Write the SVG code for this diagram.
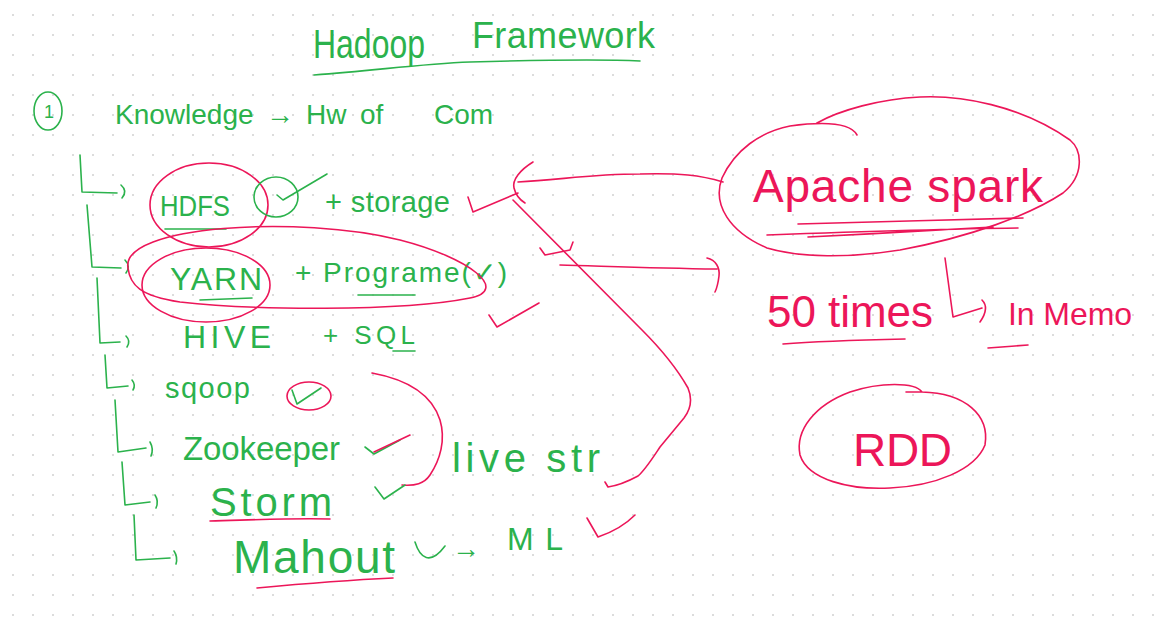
<svg xmlns="http://www.w3.org/2000/svg" width="1168" height="632" viewBox="0 0 1168 632">
<defs>
<pattern id="dots" width="20" height="20" patternUnits="userSpaceOnUse">
<rect x="12" y="14" width="2" height="2" fill="#dcdcdc"/>
</pattern>
<style>
.g{fill:none;stroke:#2bb24c;stroke-width:1.6;stroke-linecap:round;stroke-linejoin:round}
.p{fill:none;stroke:#ec1659;stroke-width:1.6;stroke-linecap:round;stroke-linejoin:round}
.tg{fill:#2bb24c;font-family:"Liberation Sans",Arial,sans-serif}
.tp{fill:#ec1659;font-family:"Liberation Sans",Arial,sans-serif}
</style>
</defs>
<rect width="1168" height="632" fill="#ffffff"/>
<rect width="1168" height="632" fill="url(#dots)"/>

<g id="title">
<text class="tg" x="313" y="58" font-size="40" textLength="112" lengthAdjust="spacingAndGlyphs">Hadoop</text>
<text class="tg" x="472" y="48" font-size="36" textLength="183" lengthAdjust="spacing">Framework</text>
<path class="g" d="M314,75 C380,70 420,64 470,62 C540,60 600,59 640,61"/>
</g>

<g id="knowledge">
<ellipse class="g" cx="48" cy="111" rx="14" ry="19"/>
<text class="tg" x="44" y="118" font-size="18">1</text>
<text class="tg" y="124" font-size="28"><tspan x="115">Knowledge</tspan><tspan x="266">→</tspan><tspan x="306">Hw</tspan><tspan x="360">of</tspan><tspan x="434">Com</tspan></text>
</g>

<g id="connectors">
<path class="g" d="M80,155 L82,192 L117,193 M121,185 Q128,191 122,198"/>
<path class="g" d="M87,205 L92,267 L121,268 M125,260 Q131,266 126,273"/>
<path class="g" d="M97,278 L100,343 L120,342 M126,336 Q131,341 127,347"/>
<path class="g" d="M105,355 L107,388 L128,386 M132,380 Q136,385 133,390"/>
<path class="g" d="M115,400 L118,452 L146,448 M150,442 Q154,449 151,456"/>
<path class="g" d="M122,462 L125,505 L150,502 M155,495 Q159,501 156,508"/>
<path class="g" d="M134,515 L136,560 L170,558 M174,551 Q178,557 176,564"/>
<path class="p" d="M723,182 C700,175 680,173 640,174 C590,174 560,180 518,182"/>
<path class="p" d="M533,162 C520,170 512,180 514,188 C516,196 520,200 525,203"/>
<path class="p" d="M468,197 L473,212 L518,193"/>
<path class="p" d="M513,200 L642,330 C660,348 675,365 688,388 C693,400 690,410 684,418 L660,447 C650,462 645,470 638,476 C625,483 615,486 608,487 L605,482"/>
<path class="p" d="M560,265 C600,266 650,268 717,269 M707,258 C716,260 720,268 719,276 C718,284 717,288 715,292"/>
<path class="p" d="M540,248 L545,255 L570,250 L573,242"/>
<path class="p" d="M489,315 L497,327 L539,303"/>
<path class="p" d="M372,373 C410,380 432,395 440,420 C446,440 440,460 430,475 C424,484 415,486 402,485"/>
</g>

<g id="hdfs">
<text class="tg" x="160" y="216" font-size="29" textLength="70" lengthAdjust="spacingAndGlyphs">HDFS</text>
<path class="g" d="M165,229 L226,229"/>
<ellipse class="p" cx="209" cy="205" rx="59" ry="42"/>
<ellipse class="g" cx="276" cy="197" rx="22" ry="20"/>
<path class="g" d="M277,195 L283,200 L327,174"/>
<text class="tg" x="325" y="212" font-size="29" textLength="125" lengthAdjust="spacing">+ storage</text>
</g>

<g id="yarn">
<text class="tg" x="170" y="290" font-size="32" textLength="92" lengthAdjust="spacing">YARN</text>
<path class="g" d="M200,300 L252,298"/>
<text class="tg" x="295" y="282" font-size="28" textLength="212" lengthAdjust="spacing">+ Programe(✓)</text>
<path class="g" d="M358,295 L415,295"/>
<ellipse class="p" cx="206" cy="285" rx="64" ry="37"/>
<path class="p" d="M128,268 C120,225 300,215 400,240 C470,258 510,290 470,298 C400,312 250,310 180,302 C140,296 130,285 128,268 Z"/>
</g>

<g id="hive">
<text class="tg" x="183" y="348" font-size="32" textLength="88" lengthAdjust="spacing">HIVE</text>
<text class="tg" x="323" y="344" font-size="26" textLength="92" lengthAdjust="spacing">+ SQL</text>
<path class="g" d="M393,351 L415,351"/>
</g>

<g id="sqoop">
<text class="tg" x="165" y="398" font-size="29" textLength="85" lengthAdjust="spacing">sqoop</text>
<ellipse class="p" cx="309" cy="396" rx="22" ry="14"/>
<path class="g" d="M292,390 L297,404 L321,388"/>
</g>

<g id="zookeeper">
<text class="tg" x="183" y="460" font-size="33" textLength="157" lengthAdjust="spacing">Zookeeper</text>
<path class="g" d="M365,447 L374,454 L400,440"/>
<path class="p" d="M374,452 L410,435"/>
</g>

<g id="storm">
<text class="tg" x="210" y="516" font-size="40" textLength="122" lengthAdjust="spacing">Storm</text>
<path class="p" d="M210,521 C250,520 290,518 330,519"/>
<path class="g" d="M375,487 L384,499 L405,485"/>
</g>

<g id="livestr">
<text class="tg" x="452" y="472" font-size="40" textLength="148" lengthAdjust="spacing">live str</text>
</g>

<g id="mahout">
<text class="tg" x="233" y="573" font-size="46" textLength="162" lengthAdjust="spacing">Mahout</text>
<path class="p" d="M257,588 C300,584 350,580 393,578"/>
<path class="g" d="M415,542 C420,558 430,566 445,546"/>
<text class="tg" x="452" y="558" font-size="28">→</text>
<text class="tg" x="507" y="550" font-size="32" textLength="56" lengthAdjust="spacing">ML</text>
<path class="p" d="M587,518 L598,537 C610,533 625,525 635,515"/>
</g>

<g id="spark">
<path class="p" d="M857,135 C850,122 820,122 790,126 C760,132 735,150 722,178 C712,205 730,232 767,248 C800,258 850,258 900,250 C970,237 1030,215 1063,193 C1085,175 1082,150 1070,140 C1020,105 960,95 920,97 C880,99 840,110 817,123"/>
<text class="tp" x="753" y="202" font-size="46" textLength="290" lengthAdjust="spacing">Apache spark</text>
<path class="p" d="M798,224 C870,222 950,220 1023,218 M767,235 C850,232 940,229 1018,228 M808,237 C870,234 940,230 993,227"/>
</g>

<g id="times">
<text class="tp" x="767" y="327" font-size="44" textLength="166" lengthAdjust="spacing">50 times</text>
<path class="p" d="M783,344 C820,341 860,340 905,339"/>
<path class="p" d="M945,258 L953,317 L982,308 M982,300 C987,305 987,312 980,322"/>
<text class="tp" x="1008" y="325" font-size="32" textLength="124" lengthAdjust="spacing">In Memo</text>
<path class="p" d="M988,348 C1000,347 1015,346 1028,345"/>
</g>

<g id="rdd">
<path class="p" d="M922,392 C915,382 880,382 850,392 C815,405 795,430 800,455 C808,480 850,490 890,488 C935,486 975,470 985,445 C990,415 965,393 922,392 L906,392"/>
<text class="tp" x="853" y="466" font-size="46" textLength="99" lengthAdjust="spacing">RDD</text>
</g>
</svg>
